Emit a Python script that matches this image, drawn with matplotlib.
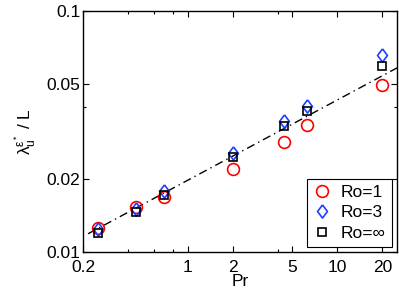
import numpy as np
import matplotlib
matplotlib.use("Agg")
import matplotlib.pyplot as plt
from matplotlib.ticker import FixedLocator, FixedFormatter, NullFormatter

plt.rcParams['font.family'] = ['Liberation Sans', 'DejaVu Sans']
plt.rcParams['mathtext.fontset'] = 'custom'
plt.rcParams['mathtext.rm'] = 'Liberation Sans'
plt.rcParams['mathtext.it'] = 'Liberation Sans'
plt.rcParams['mathtext.default'] = 'regular'

# data
pr = [0.25, 0.45, 0.7, 2.0, 4.4, 6.3, 20.0]
ro1 = [0.0126, 0.0154, 0.0169, 0.0221, 0.0287, 0.0337, 0.0493]
ro3 = [0.0125, 0.0151, 0.0179, 0.0258, 0.0351, 0.0404, 0.0656]
roinf = [0.0120, 0.0147, 0.0173, 0.0248, 0.0334, 0.0385, 0.0593]

# fitted power law (~Pr^1/3), end points
fit_x = [0.216, 25.0]
fit_y = [0.0119, 0.0581]

xticks_major = [0.2, 1, 2, 5, 10, 20]
xticks_minor = [0.4, 0.6, 0.8, 4]
yticks_major = [0.01, 0.02, 0.05, 0.1]
yticks_minor = [0.04]

# matlab-style diamond (a bit taller than wide)
diamond = [(0, 1), (0.75, 0), (0, -1), (-0.75, 0), (0, 1)]

fig = plt.figure(figsize=(3.99, 3.0), dpi=100)
ax = fig.add_axes([0.208, 0.16, 0.787, 0.803])

ax.plot(fit_x, fit_y, color='k', linestyle='-.', linewidth=1.0, dashes=(6, 3, 1, 3))
ax.plot(pr, ro1, 'o', mfc='none', mec='red', ms=8.5, mew=1.2, label='Ro=1', zorder=3)
ax.plot(pr, ro3, marker=diamond, ls='none', mfc='none', mec='#1f3fff', ms=9.5, mew=1.2,
        label='Ro=3', zorder=4)
ax.plot(pr, roinf, 's', mfc='none', mec='k', ms=6, mew=1.2, label='Ro=\u221e', zorder=5)

ax.set_xscale('log')
ax.set_yscale('log')
ax.set_xlim(0.2, 25)
ax.set_ylim(0.01, 0.1)

ax.xaxis.set_major_locator(FixedLocator(xticks_major))
ax.xaxis.set_major_formatter(FixedFormatter([str(v) for v in xticks_major]))
ax.xaxis.set_minor_locator(FixedLocator(xticks_minor))
ax.xaxis.set_minor_formatter(NullFormatter())
ax.yaxis.set_major_locator(FixedLocator(yticks_major))
ax.yaxis.set_major_formatter(FixedFormatter([str(v) for v in yticks_major]))
ax.yaxis.set_minor_locator(FixedLocator(yticks_minor))
ax.yaxis.set_minor_formatter(NullFormatter())

ax.tick_params(which='both', direction='in', top=True, right=True, labelsize=12.5)
ax.tick_params(which='major', length=4, width=0.8)
ax.tick_params(which='minor', length=2.5, width=0.8)
ax.tick_params(axis='x', which='major', pad=6)
ax.tick_params(axis='y', which='major', pad=2)
for s in ax.spines.values():
    s.set_linewidth(1.0)

ax.set_xlabel('Pr', fontsize=12.5, labelpad=-1)
ax.set_ylabel(r'$\lambda_u^{\varepsilon^*}$ / L', fontsize=12.5, labelpad=6)

leg = ax.legend(loc='lower right', fontsize=12.5, frameon=True, fancybox=False,
                edgecolor='k', framealpha=1, handlelength=1.0, handletextpad=0.6,
                borderaxespad=0.3, labelspacing=0.3, borderpad=0.35)
leg.get_frame().set_linewidth(0.8)

fig.savefig('out.png', dpi=100)
